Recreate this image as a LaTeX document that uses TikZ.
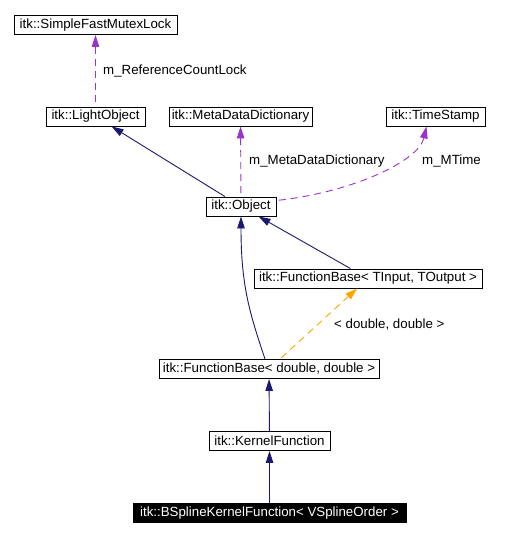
\documentclass[tikz,border=0pt]{standalone}
\usepackage{fontspec}
\setmainfont{Liberation Sans}
\usepackage{xcolor}
\usetikzlibrary{arrows.meta,calc}
\definecolor{inhblue}{RGB}{25,25,112}
\definecolor{usepurple}{RGB}{154,50,205}
\definecolor{tplorange}{RGB}{255,165,0}

\begin{document}
\begin{tikzpicture}[x=1pt,y=-1pt,
  cls/.style={draw,line width=0.9pt,inner sep=0pt,minimum height=19pt,font=\fontsize{13.3}{16}\selectfont},
  lbl/.style={anchor=west,inner sep=0pt,font=\fontsize{13.3}{16}\selectfont},
  inh/.style={draw=inhblue,line width=0.9pt,{Triangle[length=12pt,width=7.5pt]}-,fill=none},
  usage/.style={draw=usepurple,line width=0.9pt,dash pattern=on 7pt off 5pt,{Triangle[length=12pt,width=7.5pt,fill=usepurple]}-},
  tpl/.style={draw=tplorange,line width=0.9pt,dash pattern=on 7pt off 5pt,{Triangle[length=12pt,width=7.5pt,fill=tplorange]}-}]
\useasboundingbox (0,0) rectangle (518,537);
\node[cls,minimum width=163pt] (mutex) at (95.5,25) {itk::SimpleFastMutexLock};
\node[cls,minimum width=99pt] (light) at (95.5,116.5) {itk::LightObject};
\node[cls,minimum width=143pt] (meta) at (240.5,116.5) {itk::MetaDataDictionary};
\node[cls,minimum width=99pt] (stamp) at (435.5,116.5) {itk::TimeStamp};
\node[cls,minimum width=70pt] (obj) at (241,206.5) {itk::Object};
\node[cls,minimum width=228pt] (fbio) at (368,278.5) {itk::FunctionBase< TInput, TOutput >};
\node[cls,minimum width=220pt] (fbdd) at (269,369) {itk::FunctionBase< double, double >};
\node[cls,minimum width=121pt] (kernel) at (269.5,441) {itk::KernelFunction};
\node[cls,minimum width=273pt,fill=black,text=white] (bspline) at (269.5,513) {itk::BSplineKernelFunction< VSplineOrder >};
% member links
\draw[usage] (mutex) -- (light);
\draw[usage] (meta) -- (obj);
\draw[usage] ($(stamp.south)+(-9,0)$) .. controls +(-8,35) and +(75,-8) .. ($(obj.east)+(0,-6)$);
\node[lbl] (lockname) at (103,71) {m\_ReferenceCountLock};
\node[lbl] (metaname) at (249,161) {m\_MetaDataDictionary};
\node[lbl] (timename) at (422,161) {m\_MTime};
% inheritance
\foreach \a/\b in {light/obj,obj/fbio,fbdd/kernel,kernel/bspline}{\draw[inh] (\a) -- (\b);}
\draw[inh] (obj.south) .. controls +(0,70) and +(-15,-45) .. ($(fbdd.north)+(-4,0)$);
% template instance
\draw[tpl] (fbio) -- (fbdd);
\node[lbl] (tplname) at (334,325) {< double, double >};
\end{tikzpicture}
\end{document}
